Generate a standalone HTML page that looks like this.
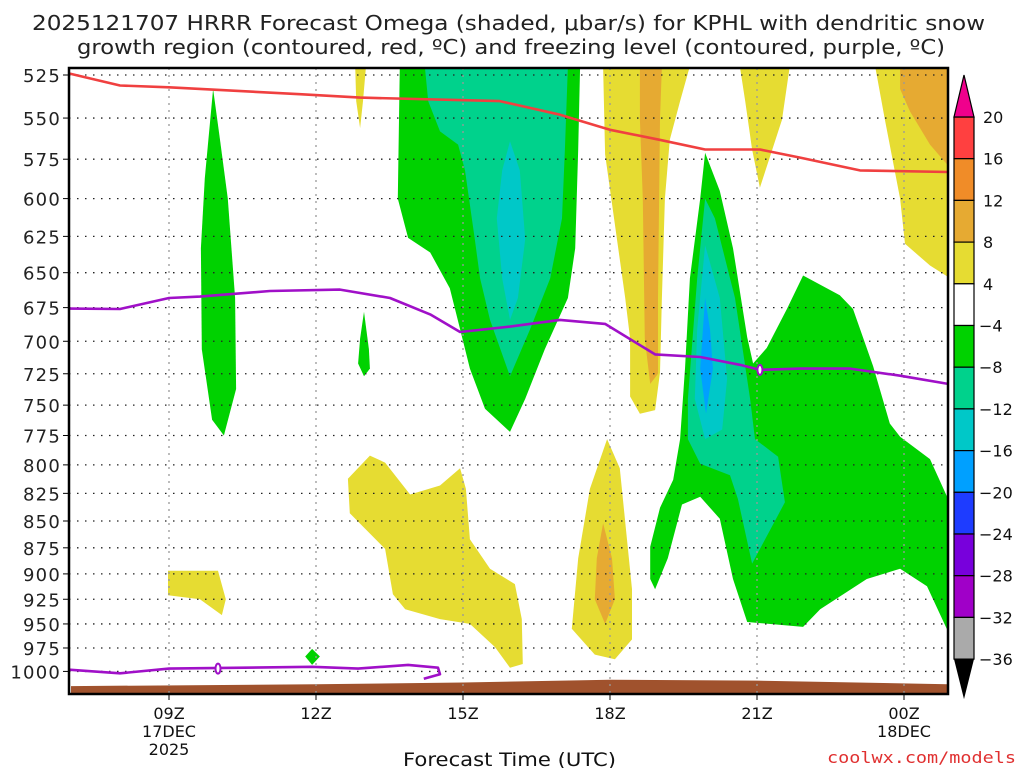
<!DOCTYPE html>
<html><head><meta charset="utf-8"><style>
body{margin:0;background:#fff;width:1024px;height:768px;overflow:hidden;font-family:"DejaVu Sans",sans-serif}
svg text{font-family:"DejaVu Sans","Liberation Sans",sans-serif}
</style></head><body>
<svg id="c" width="1024" height="768" xmlns="http://www.w3.org/2000/svg">
<text x="32" y="30" textLength="953" lengthAdjust="spacingAndGlyphs" font-size="20" fill="#222">2025121707 HRRR Forecast Omega (shaded, μbar/s) for KPHL with dendritic snow</text>
<text x="77" y="54" textLength="868" lengthAdjust="spacingAndGlyphs" font-size="20" fill="#222">growth region (contoured, red, ºC) and freezing level (contoured, purple, ºC)</text>
<g id="shades"></g><g id="grid"></g><g id="lines"></g><g id="axes"></g><g id="cbar"></g>
<text x="403" y="766" textLength="213" lengthAdjust="spacingAndGlyphs" font-size="19" fill="#111">Forecast Time (UTC)</text>
<text x="827" y="763" textLength="189" lengthAdjust="spacingAndGlyphs" font-size="16" fill="#e03030" style="font-family:'DejaVu Sans Mono',monospace">coolwx.com/models</text>
</svg>
<script>
const pTicks=[525,550,575,600,625,650,675,700,725,750,775,800,825,850,875,900,925,950,975,1000];
const hTicks=[9,12,15,18,21,24];
const hLabels=["09Z","12Z","15Z","18Z","21Z","00Z"];
const hSub=[["17DEC","2025"],[],[],[],[],["18DEC"]];
const cbLevels=[20,16,12,8,4,-4,-8,-12,-16,-20,-24,-28,-32,-36];
const cbColors=["#ff4040","#f08c28","#e6aa32","#e6dc32","#ffffff","#00d200","#00d28c","#00c8c8","#00a0ff","#1e3cff","#7800dc","#a000c8","#aaaaaa"];
const surfH=[7,12,15,18,21,25];
const surfP=[1016,1014,1012,1009,1010,1014];
const redH=[6.94,8.0,9.0,11.67,12.9,15.75,16.98,18.0,19.0,19.94,21.06,21.88,23.1,24.9];
const redP=[524,531,532,536,538,540,548,557,563,569,569,574,582,583];
const frzH=[6.94,8.0,9.0,9.63,11.06,12.49,13.51,14.33,14.94,15.96,16.98,17.9,18.92,19.84,20.65,21.06,21.88,22.9,23.92,24.9];
const frzP=[675.7,676,668,667,663,662,668,680,693,689,684,687,710,712,718,722,721,721,726.5,733];
const frzLowH=[6.94,8.0,9.0,11.92,12.86,13.88,14.49,14.53,14.2];
const frzLowP=[998,1002,997,995,997,993,996,1003,1008];
// shaded regions: [color, hours, pressures]
const regions=[
["#00d200",[9.9,10.04,10.2,10.35,10.37,10.12,9.88,9.67,9.65,9.73],[533,563,600,668,737,775,762,706,633,587]],
["#00d200",[12.98,13.08,13.1,12.98,12.86,12.9],[678,706,721,727,717,698]],
["#e6dc32",[12.8,13.02,12.96,12.9,12.82],[520,520,540,556,540]],
["#00d200",[13.71,13.67,13.88,14.33,14.73,14.94,15.14,15.45,15.96,16.27,16.67,17.14,17.29,17.35,17.39],[520,600,626,636,661,691,721,753,772,745,706,668,633,569,520]],
["#00d28c",[14.22,14.29,14.53,14.9,15.04,15.24,15.35,15.55,15.96,16.37,16.78,17.02,17.08,17.14],[520,540,558,566,582,627,654,684,727,691,654,613,569,520]],
["#00c8c8",[15.96,16.16,16.27,16.12,15.96,15.8,15.69,15.8],[564,582,627,668,684,654,613,582]],
["#e6dc32",[17.86,17.9,18.16,18.31,18.41,18.41,18.61,18.92,19.02,19.06,19.12,19.22,19.43,19.63],[520,572,631,668,698,743,757,754,724,668,600,563,540,520]],
["#e6aa32",[18.61,19.06,19.02,18.98,18.98,18.82,18.71,18.67,18.61],[520,520,551,668,725,733,698,600,551]],
["#e6dc32",[20.65,21.67,21.51,21.06,20.9,20.76],[520,520,551,593,569,540]],
["#e6dc32",[23.41,24.9,24.9,24.53,24.02,23.92,23.61],[520,520,653,645,630,600,551]],
["#e6aa32",[23.92,24.9,24.9,24.53,24.12,23.92],[520,520,579,566,546,533]],
["#00d200",[19.94,19.84,19.63,19.53,19.43,19.29,19.02,18.82,18.82,18.92,19.18,19.47,19.84,20.24,20.51,20.8,21.94,22.29,23.24,23.92,24.47,24.9,24.9,24.53,23.92,23.71,23.37,22.96,22.69,21.94,21.61,21.2,20.92,20.8,20.51,20.24],[571,600,654,721,778,813,838,874,905,915,885,835,828,848,905,948,953,935,905,895,912,958,830,795,776,765,719,676,666,652,676,705,717,697,633,595]],
["#00d28c",[19.94,19.78,19.59,19.59,19.84,20.45,20.61,20.9,21.57,21.43,20.96,20.86,20.55,20.14],[600,654,745,778,799,809,830,890,833,793,778,745,668,613]],
["#00c8c8",[19.94,19.78,19.73,19.94,20.29,20.39,20.24],[631,691,745,778,770,729,668]],
["#00a0ff",[19.94,19.84,19.96,20.1,20.04],[668,721,757,721,691]],
["#e6dc32",[8.98,10.0,10.16,10.08,9.63,8.98],[897,897,925,941,925,921]],
["#00d200",[11.92,12.08,11.92,11.78],[976,984,993,984]],
["#e6dc32",[13.1,13.41,13.92,14.53,14.94,15.06,15.14,15.55,16.06,16.2,16.22,15.96,15.65,15.14,14.53,13.82,13.57,13.41,12.69,12.65],[792,798,826,818,803,821,867,895,910,945,992,996,974,950,945,935,920,876,843,812]],
["#e6dc32",[17.94,18.2,18.45,18.45,18.1,17.69,17.22,17.35,17.59],[778,803,915,966,987,982,955,885,821]],
["#e6aa32",[17.86,18.04,18.1,17.9,17.69,17.73],[852,885,925,950,925,885]]
];
const X0=69,X1=948,Y0=68,Y1=694;
const xS=h=>169+(h-9)*49;
const yS=p=>75+925.6*Math.log(p/525);
const NS="http://www.w3.org/2000/svg";
function mk(tag,parent,at){const e=document.createElementNS(NS,tag);for(const k in at)e.setAttribute(k,at[k]);document.getElementById(parent).appendChild(e);return e;}
const clip=mk("clipPath","shades",{id:"pc"});
const cr=document.createElementNS(NS,"rect");cr.setAttribute("x",X0);cr.setAttribute("y",Y0);cr.setAttribute("width",X1-X0);cr.setAttribute("height",Y1-Y0);clip.appendChild(cr);
document.getElementById("shades").setAttribute("clip-path","url(#pc)");
document.getElementById("lines").setAttribute("clip-path","url(#pc)");
regions.forEach((r,i)=>{
  const pts=r[1].map((h,j)=>xS(h).toFixed(1)+","+yS(r[2][j]).toFixed(1)).join(" ");
  const e=mk("polygon","shades",{points:pts,fill:r[0]});
  
  
});
{let pts=surfH.map((h,j)=>xS(h)+","+yS(surfP[j]).toFixed(1)).join(" ");
pts+=" "+xS(surfH[surfH.length-1])+","+Y1+" "+xS(surfH[0])+","+Y1;
const g=mk("polygon","shades",{points:pts,fill:"#a0522d"});

}
pTicks.forEach(p=>{
  const y=yS(p);
  const l=mk("line","grid",{x1:X0,x2:X1,y1:y,y2:y,stroke:"#222","stroke-width":1.3,"stroke-dasharray":"1.5 6.5"});
  
  
  const t=mk("text","axes",{x:61,y:y+7,"text-anchor":"end","font-size":18,"letter-spacing":1.2,fill:"#222"});
  t.textContent=p;
  
  
  mk("line","axes",{x1:X0-6,x2:X0,y1:y,y2:y,stroke:"#000","stroke-width":1});
});
hTicks.forEach((h,i)=>{
  const x=xS(h);
  const l=mk("line","grid",{x1:x,x2:x,y1:Y0,y2:Y1,stroke:"#999","stroke-width":1.3,"stroke-dasharray":"2 5"});
  
  
  mk("line","axes",{x1:x,x2:x,y1:Y1,y2:Y1+6,stroke:"#000","stroke-width":1});
  [hLabels[i]].concat(hSub[i]).forEach((s,k)=>{
    const t=mk("text","axes",{x:x,y:719+k*18,"text-anchor":"middle","font-size":16,fill:"#111"});
    t.textContent=s;
    
    
  });
});
function line(hs,ps,col,name){
  const d=hs.map((h,j)=>(j?"L":"M")+xS(h).toFixed(1)+","+yS(ps[j]).toFixed(1)).join("");
  const e=mk("path","lines",{d:d,fill:"none",stroke:col,"stroke-width":2.6,"stroke-linejoin":"round"});
  
  
}
line(redH,redP,"#f04040","dendritic-growth-contour");
line(frzH,frzP,"#a010c8","freezing-level-contour");
line(frzLowH,frzLowP,"#a010c8","freezing-level-low-contour");
[[21.06,722],[10.0,997]].forEach((q,i)=>{
  const e=mk("ellipse","lines",{cx:xS(q[0]),cy:yS(q[1]),rx:2.5,ry:5,fill:"#fff",stroke:"#a010c8","stroke-width":2});
  
  
});
{const f=mk("rect","axes",{x:X0,y:Y0,width:X1-X0,height:Y1-Y0,fill:"none",stroke:"#000","stroke-width":2.5});

}
const CX=954,CW=20,CT=117,CH=41.7;
cbColors.forEach((c,i)=>{
  const r=mk("rect","cbar",{x:CX,y:CT+i*CH,width:CW,height:CH,fill:c,stroke:"#000","stroke-width":1.2});
  
  
});
cbLevels.forEach((v,i)=>{
  const t=mk("text","cbar",{x:v<0?979:983,y:CT+i*CH+6,"font-size":16,fill:"#111"});
  t.textContent=(v<0?"−"+(-v):v);
  
  
});
{const top=mk("polygon","cbar",{points:`${CX},${CT} ${CX+CW},${CT} ${CX+CW/2},${CT-42}`,fill:"#f0008c",stroke:"#000","stroke-width":1.2});


const yb=CT+cbColors.length*CH;
const bot=mk("polygon","cbar",{points:`${CX},${yb} ${CX+CW},${yb} ${CX+CW/2},${yb+40}`,fill:"#000"});

}
</script>
</body></html>
